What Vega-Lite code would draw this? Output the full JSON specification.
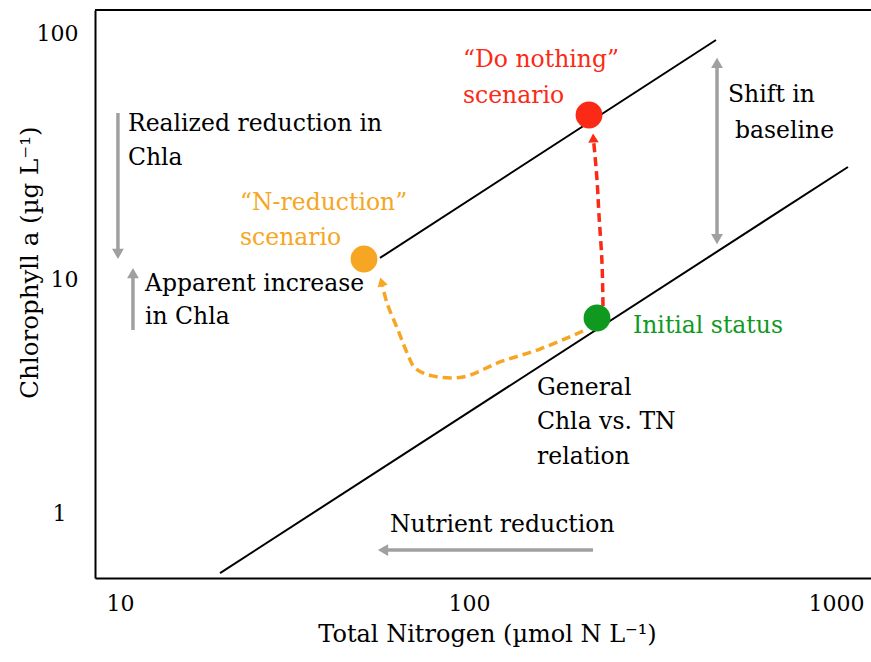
{
  "$schema": "https://vega.github.io/schema/vega-lite/v6.json",
  "width": 776,
  "height": 568,
  "autosize": "none",
  "padding": {"left": 95, "top": 10, "right": 0, "bottom": 84},
  "background": "white",
  "config": {
    "view": {"stroke": null},
    "font": "DejaVu Serif"
  },
  "datasets": {
    "relations": [
      {"relation": "general", "x": 19.40, "y": 0.538},
      {"relation": "general", "x": 1101, "y": 29.50},
      {"relation": "shifted", "x": 54.28, "y": 12.03},
      {"relation": "shifted", "x": 471.2, "y": 103.2}
    ],
    "shafts": [
      {"arrow": "realized", "x": 10.06, "y": 50.23},
      {"arrow": "realized", "x": 10.06, "y": 12.51},
      {"arrow": "apparent", "x": 11.08, "y": 5.91},
      {"arrow": "apparent", "x": 11.08, "y": 10.37},
      {"arrow": "shift", "x": 474.3, "y": 82.27},
      {"arrow": "shift", "x": 474.3, "y": 14.50},
      {"arrow": "nutrient", "x": 213.6, "y": 0.675},
      {"arrow": "nutrient", "x": 55.33, "y": 0.675}
    ],
    "heads": [
      {"dir": "down", "x": 10.06, "y": 12.51},
      {"dir": "up", "x": 11.08, "y": 10.37},
      {"dir": "up", "x": 474.3, "y": 82.27},
      {"dir": "down", "x": 474.3, "y": 14.50},
      {"dir": "left", "x": 55.33, "y": 0.675}
    ],
    "paths": [
      {"path": "Do nothing", "step": 0, "x": 227.8, "y": 7.49},
      {"path": "Do nothing", "step": 1, "x": 226.3, "y": 11.56},
      {"path": "Do nothing", "step": 2, "x": 222.0, "y": 18.37},
      {"path": "Do nothing", "step": 3, "x": 219.2, "y": 25.95},
      {"path": "Do nothing", "step": 4, "x": 215.0, "y": 36.64},
      {"path": "Do nothing", "step": 5, "x": 214.0, "y": 39.26},
      {"path": "N-reduction", "step": 0, "x": 200.3, "y": 5.854},
      {"path": "N-reduction", "step": 1, "x": 151.9, "y": 4.90},
      {"path": "N-reduction", "step": 2, "x": 117.4, "y": 4.313},
      {"path": "N-reduction", "step": 3, "x": 92.57, "y": 3.719},
      {"path": "N-reduction", "step": 4, "x": 76.0, "y": 3.76},
      {"path": "N-reduction", "step": 5, "x": 68.0, "y": 4.064},
      {"path": "N-reduction", "step": 6, "x": 65.0, "y": 4.62},
      {"path": "N-reduction", "step": 7, "x": 60.93, "y": 5.91},
      {"path": "N-reduction", "step": 8, "x": 56.78, "y": 7.72},
      {"path": "N-reduction", "step": 9, "x": 54.81, "y": 9.51}
    ],
    "pathHeads": [
      {"path": "Do nothing", "x": 214.0, "y": 39.26},
      {"path": "N-reduction", "x": 54.81, "y": 9.51}
    ],
    "states": [
      {"state": "Initial status", "x": 219.2, "y": 6.655},
      {"state": "Do nothing", "x": 208.2, "y": 49.26},
      {"state": "N-reduction", "x": 48.97, "y": 11.91}
    ],
    "labels": [
      {"group": "Do nothing", "text": "“Do nothing”", "x": 92.57, "y": 84.75},
      {"group": "Do nothing", "text": "scenario", "x": 92.57, "y": 59.42},
      {"group": "note", "text": "Shift in", "x": 508.8, "y": 60.0},
      {"group": "note", "text": "baseline", "x": 532.3, "y": 42.07},
      {"group": "note", "text": "Realized reduction in", "x": 10.73, "y": 45.08},
      {"group": "note", "text": "Chla", "x": 10.73, "y": 32.24},
      {"group": "N-reduction", "text": "“N-reduction”", "x": 22.06, "y": 20.69},
      {"group": "N-reduction", "text": "scenario", "x": 22.06, "y": 14.65},
      {"group": "note", "text": "Apparent increase", "x": 11.97, "y": 9.30},
      {"group": "note", "text": "in Chla", "x": 11.97, "y": 6.72},
      {"group": "Initial status", "text": "Initial status", "x": 276.2, "y": 6.15},
      {"group": "note", "text": "General", "x": 149.0, "y": 3.337},
      {"group": "note", "text": "Chla vs. TN", "x": 149.0, "y": 2.386},
      {"group": "note", "text": "relation", "x": 149.0, "y": 1.690},
      {"group": "note", "text": "Nutrient reduction", "x": 57.89, "y": 0.8641}
    ],
    "frameTop": [{"x": 8.68, "x2": 1277, "y": 138.7}]
  },
  "encoding": {
    "x": {
      "field": "x", "type": "quantitative",
      "scale": {"type": "log", "domain": [8.68, 1277], "nice": false},
      "title": "Total Nitrogen (µmol N L⁻¹)",
      "axis": {
        "values": [10, 100, 1000], "format": "d", "grid": false, "ticks": false, "tickSize": 0,
        "domainColor": "#000", "domainWidth": 2,
        "labelFont": "DejaVu Serif", "labelFontSize": 22, "labelColor": "#000",
        "labelBaseline": "alphabetic", "labelPadding": 32,
        "labelFlush": false, "labelBound": false, "labelOverlap": false,
        "labelOffset": {"condition": {"test": "datum.value == 100", "value": -6}, "value": 3},
        "titleFont": "DejaVu Serif", "titleFontSize": 24, "titleFontWeight": "normal", "titleColor": "#000",
        "titleX": 392, "titleY": 63, "titleBaseline": "alphabetic", "titleAlign": "center"
      }
    },
    "y": {
      "field": "y", "type": "quantitative",
      "scale": {"type": "log", "domain": [0.5125, 138.7], "nice": false},
      "title": "Chlorophyll a (µg L⁻¹)",
      "axis": {
        "values": [1, 10, 100], "format": "d", "grid": false, "ticks": false, "tickSize": 0,
        "domainColor": "#000", "domainWidth": 2,
        "labelFont": "DejaVu Serif", "labelFontSize": 22, "labelColor": "#000",
        "labelBaseline": "middle",
        "labelAlign": {"condition": {"test": "datum.value == 1", "value": "left"}, "value": "right"},
        "labelPadding": {"condition": {"test": "datum.value == 1", "value": 43}, "value": 17},
        "labelOffset": {"condition": {"test": "datum.value == 100", "value": -10}, "value": 3},
        "labelFlush": false, "labelBound": false, "labelOverlap": false,
        "titleFont": "DejaVu Serif", "titleFontSize": 24.5, "titleFontWeight": "normal", "titleColor": "#000",
        "titleX": -65, "titleY": 252, "titleAngle": 270, "titleBaseline": "middle", "titleAlign": "center"
      }
    }
  },
  "layer": [
    {
      "data": {"name": "frameTop"},
      "mark": {"type": "rule", "color": "#000", "strokeWidth": 2},
      "encoding": {"x2": {"field": "x2"}}
    },
    {
      "data": {"name": "relations"},
      "mark": {"type": "line", "color": "#000", "strokeWidth": 2},
      "encoding": {"detail": {"field": "relation"}}
    },
    {
      "data": {"name": "shafts"},
      "mark": {"type": "line", "color": "#a0a0a0", "strokeWidth": 3.5},
      "encoding": {"detail": {"field": "arrow"}}
    },
    {
      "data": {"name": "heads"},
      "mark": {"type": "point", "filled": true, "opacity": 1, "color": "#a0a0a0", "size": 140},
      "encoding": {
        "shape": {"field": "dir", "type": "nominal", "scale": {"domain": ["up", "down", "left"], "range": ["triangle-up", "triangle-down", "triangle-left"]}, "legend": null}
      }
    },
    {
      "data": {"name": "paths"},
      "mark": {"type": "line", "strokeWidth": 3.5, "strokeDash": [9, 5], "interpolate": "catmull-rom"},
      "encoding": {
        "order": {"field": "step", "type": "quantitative"},
        "color": {"field": "path", "type": "nominal", "scale": {"domain": ["Do nothing", "N-reduction", "Initial status", "note"], "range": ["#fa2a16", "#f6a623", "#0f9a1f", "#000000"]}, "legend": null}
      }
    },
    {
      "data": {"name": "pathHeads"},
      "mark": {"type": "point", "filled": true, "opacity": 1, "size": 110, "shape": "triangle-up"},
      "encoding": {
        "angle": {"field": "path", "type": "nominal", "scale": {"domain": ["Do nothing", "N-reduction"], "range": [-3, -15]}, "legend": null},
        "color": {"field": "path", "type": "nominal", "scale": {"domain": ["Do nothing", "N-reduction", "Initial status", "note"], "range": ["#fa2a16", "#f6a623", "#0f9a1f", "#000000"]}, "legend": null}
      }
    },
    {
      "data": {"name": "states"},
      "mark": {"type": "point", "filled": true, "opacity": 1, "size": 720, "shape": "circle"},
      "encoding": {
        "color": {"field": "state", "type": "nominal", "scale": {"domain": ["Do nothing", "N-reduction", "Initial status", "note"], "range": ["#fa2a16", "#f6a623", "#0f9a1f", "#000000"]}, "legend": null}
      }
    },
    {
      "data": {"name": "labels"},
      "mark": {"type": "text", "align": "left", "baseline": "middle", "font": "DejaVu Serif", "fontSize": 23.5},
      "encoding": {
        "text": {"field": "text"},
        "color": {"field": "group", "type": "nominal", "scale": {"domain": ["Do nothing", "N-reduction", "Initial status", "note"], "range": ["#fa2a16", "#f6a623", "#0f9a1f", "#000000"]}, "legend": null}
      }
    }
  ]
}
